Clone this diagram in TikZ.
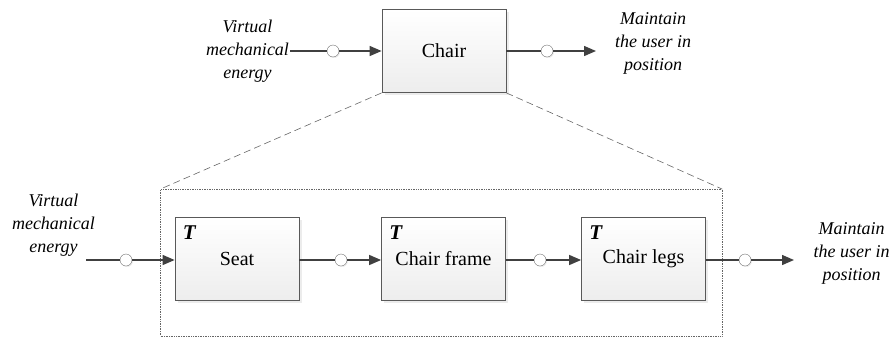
\documentclass[tikz,border=0pt]{standalone}
\usepackage{fontspec}
\setmainfont{Liberation Serif}
\usetikzlibrary{arrows.meta,positioning,shadows}

\begin{document}
\begin{tikzpicture}[x=1pt,y=-1pt]
  \tikzstyle{box} = [rectangle, draw=black!65, line width=0.8pt, top color=white, bottom color=gray!14, drop shadow={shadow xshift=2.5pt, shadow yshift=-2.5pt, fill=black!15}, minimum width=124pt, minimum height=83pt, font=\fontsize{20}{24}\selectfont]
  \tikzstyle{flow} = [font=\fontsize{18}{23}\selectfont\itshape, align=center, inner sep=1pt]
  \tikzstyle{dot} = [circle, draw=black!55, fill=white, inner sep=0pt, minimum size=12pt, drop shadow={shadow xshift=1pt, shadow yshift=-1pt, fill=black!15}]
  \tikzstyle{wire} = [draw=black!75, line width=1.4pt]
  \tikzstyle{arr} = [wire, -{Triangle[length=12pt,width=10pt]}]
  \tikzstyle{tmark} = [font=\fontsize{21}{24}\selectfont\bfseries\itshape, inner sep=0pt, anchor=north west]
  \tikzstyle{zoomline} = [draw=black!60, dash pattern=on 7pt off 4pt, line width=0.6pt]
  \tikzstyle{subframe} = [rectangle, draw=black!60, densely dotted, line width=0.7pt, minimum width=561.5pt, minimum height=146.5pt]

  \useasboundingbox (0,0) rectangle (892,338);

  % top level
  \node (chair) [box] at (444,51) {Chair};
  \node (topin) [flow] at (247.5,51) {Virtual\\mechanical\\energy};
  \node (topout) [flow] at (653,43) {Maintain\\the user in\\position};
  \node (topdot1) [dot] at (333,51) {};
  \node (topdot2) [dot] at (547,51) {};
  \coordinate (topend) at (596,51);
  \draw [wire] (topin.east) -- (topdot1);
  \draw [arr] (topdot1) -- (chair);
  \draw [wire] (chair) -- (topdot2);
  \draw [arr] (topdot2) -- (topend);

  % decomposition
  \node (sub) [subframe] at (441.25,262.75) {};
  \draw [zoomline] (chair.south west) -- (sub.north west);
  \draw [zoomline] (chair.south east) -- (sub.north east);

  \node (seat) [box] at (237,259) {Seat};
  \node (frame) [box] at (443.5,259) {Chair frame};
  \node (legs) [box] at (643.5,259) {Chair legs};
  \foreach \b in {seat,frame,legs}
    \node (\b T) [tmark] at ([xshift=8pt,yshift=-8pt]\b.north west) {T};

  \node (subin) [flow] at (53.5,225) {Virtual\\mechanical\\energy};
  \node (subout) [flow] at (851.5,253) {Maintain\\the user in\\position};
  \coordinate (substart) at (86,260);
  \coordinate (subend) at (794,260);
  \node (subdot1) [dot] at (126,260) {};
  \node (subdot2) [dot] at (341,260) {};
  \node (subdot3) [dot] at (540,260) {};
  \node (subdot4) [dot] at (745,260) {};
  \draw [wire] (substart) -- (subdot1);
  \draw [arr] (subdot1) -- (seat.west |- subdot1);
  \draw [wire] (seat.east |- subdot2) -- (subdot2);
  \draw [arr] (subdot2) -- (frame.west |- subdot2);
  \draw [wire] (frame.east |- subdot3) -- (subdot3);
  \draw [arr] (subdot3) -- (legs.west |- subdot3);
  \draw [wire] (legs.east |- subdot4) -- (subdot4);
  \draw [arr] (subdot4) -- (subend);
\end{tikzpicture}
\end{document}
